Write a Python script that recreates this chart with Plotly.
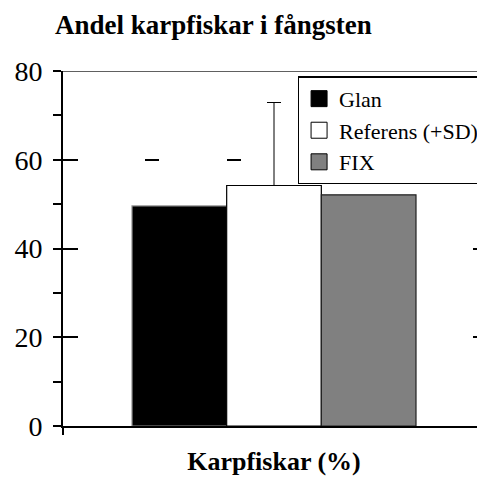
import plotly.graph_objects as go

series = ["Glan", "Referens (+SD)", "FIX"]
values = [49.6, 54.2, 52.1]
sd = [None, 18.7, None]
fills = ["#000000", "#ffffff", "#808080"]
edges = ["#909090", "#000000", "#202020"]
category = ["Karpfiskar (%)"]
y_ticks = [0, 20, 40, 60, 80]

FONT = "Liberation Serif, Times New Roman, serif"

# page body has an 8px margin, so the figure is drawn 8px in and down
W, H = 477, 474

fig = go.Figure()
for name, v, s, fc, ec in zip(series, values, sd, fills, edges):
    err = None
    if s is not None:
        err = dict(type="data", symmetric=False, array=[s], arrayminus=[0],
                   color="black", thickness=1, width=7)
    fig.add_trace(go.Bar(x=[0], y=[v], name=name, marker=dict(color=fc, line=dict(color=ec, width=1.2)),
                         error_y=err, showlegend=False))
    fig.add_trace(go.Scatter(x=[None], y=[None], mode="markers", name=name,
                             marker=dict(symbol="square", size=16, color=fc, line=dict(color="black", width=1))))
# empty trace so the overlay axis (inner tick halves) is drawn
fig.add_trace(go.Scatter(x=[None], y=[None], yaxis="y2", showlegend=False, hoverinfo="skip"))

fig.add_shape(type="line", xref="paper", x0=0, x1=1, yref="y", y0=80, y1=80,
              line=dict(color="#606060", width=2), layer="below")

fig.update_layout(
    width=W, height=H,
    margin=dict(l=55, r=0, t=63, b=56),
    paper_bgcolor="white", plot_bgcolor="white",
    barmode="group", bargap=0.327, bargroupgap=0,
    font=dict(family=FONT, color="black"),
    title=dict(text="<b>Andel karpfiskar i fångsten</b>", font=dict(size=27, family=FONT),
               x=47/W, xanchor="left", xref="container",
               y=1-17/H, yanchor="middle", yref="container"),
    legend=dict(x=0.999, xanchor="right", y=0.985, yanchor="top",
                bordercolor="black", borderwidth=1.5, bgcolor="white",
                font=dict(size=22, family=FONT), itemwidth=30, tracegroupgap=0),
    showlegend=True,
    yaxis2=dict(overlaying="y", side="left", range=[0, 80], tickvals=y_ticks, ticks="inside",
                ticklen=15, tickwidth=1.5, tickcolor="black", showticklabels=False,
                showgrid=False, zeroline=False, showline=False),
)
fig.update_xaxes(range=[-0.5, 0.5], tickvals=[-0.5], ticks="outside", ticklen=7, tickwidth=1.5,
                 tickcolor="black", showticklabels=False, showline=True, linecolor="black",
                 linewidth=2, showgrid=False, zeroline=False,
                 title=dict(text="<b>" + category[0] + "</b>", font=dict(size=26, family=FONT), standoff=18))
fig.layout.yaxis.update(range=[0, 80], tickvals=y_ticks, ticks="outside", ticklen=8, tickwidth=1.5,
                        tickcolor="black", showline=True, linecolor="black", linewidth=2,
                        showgrid=True, gridcolor="black", gridwidth=1.5, griddash="14px,68px",
                        zeroline=False, tickfont=dict(size=28, family=FONT), ticklabelstandoff=5,
                        minor=dict(tickvals=[10, 30, 50, 70], ticks="outside", ticklen=8, tickwidth=1.5,
                                   tickcolor="black", showgrid=False))

fig.write_html("out.html")
